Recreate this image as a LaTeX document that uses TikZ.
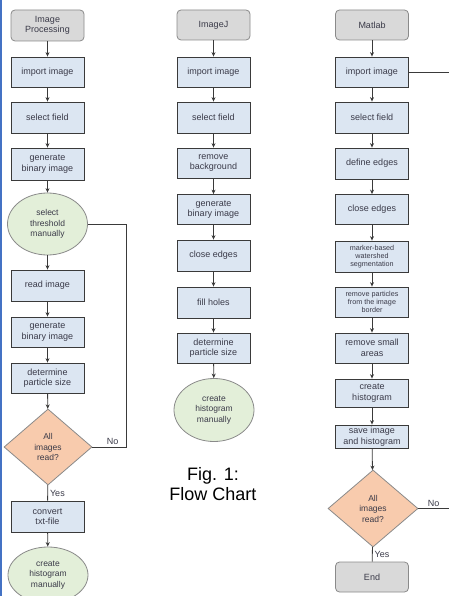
\documentclass[tikz,border=0pt]{standalone}
\usepackage{fontspec}
\setmainfont{Liberation Sans}
\usetikzlibrary{arrows.meta, shapes.geometric}
\definecolor{cbox}{HTML}{DCE6F2}
\definecolor{cstart}{HTML}{D9D9D9}
\definecolor{cmanual}{HTML}{E3EFD9}
\definecolor{cdecide}{HTML}{F8CBAD}
\definecolor{cline}{HTML}{3A3A3A}
\definecolor{cedge}{HTML}{8A8A8A}
\definecolor{ctext}{HTML}{3A3A48}
\definecolor{cframe}{HTML}{4472C4}
\tikzset{
  every picture/.style={line width=0.8pt},
  box/.style={draw=cline, fill=cbox, minimum width=73pt, minimum height=30pt, inner sep=1pt, align=center, text=ctext, font=\fontsize{9}{10.5}\selectfont},
  startbox/.style={box, draw=cedge, fill=cstart, rounded corners=4pt},
  manual/.style={ellipse, draw=cedge, fill=cmanual, minimum width=80pt, minimum height=62pt, inner sep=0pt, align=center, text=ctext, font=\fontsize{8.5}{10.5}\selectfont},
  decide/.style={diamond, draw=cedge, fill=cdecide, minimum width=88pt, minimum height=76pt, inner sep=0pt, align=center, text=ctext, font=\fontsize{8.5}{10.5}\selectfont},
  small/.style={font=\fontsize{7.2}{8}\selectfont},
  arrow/.style={-{Stealth[length=4.5pt, width=4pt]}, draw=cline},
  link/.style={draw=cline},
  answer/.style={text=ctext, font=\fontsize{9}{10}\selectfont, inner sep=2pt},
  caption/.style={align=center, font=\fontsize{18}{20}\selectfont},
}

\begin{document}
\begin{tikzpicture}[x=1pt, y=-1pt]
  \useasboundingbox (0,0) rectangle (449,596);
  \draw[cframe, line width=2pt] (1,0) -- (1,596);

  % image processing (left column)
  \node[startbox, minimum height=31pt] (start1) at (47.5,25.5) {Image\\Processing};
  \node[box] (imp1) at (47.5,72) {import image};
  \node[box, minimum height=31pt] (sel1) at (47.5,117.5) {select field};
  \node[box, minimum height=32pt] (gen1) at (47.5,164) {generate\\binary image};
  \node[manual] (thr1) at (47.5,224) {select\\threshold\\manually};
  \node[box, minimum height=31pt] (read1) at (47.5,285.5) {read image};
  \node[box] (genb1) at (47.5,332) {generate\\binary image};
  \node[box] (det1) at (47.5,378) {determine\\particle size};
  \node[decide] (dec1) at (48,447) {All\\images\\read?};
  \node[box, minimum height=31pt] (conv1) at (47.5,516.5) {convert\\txt-file};
  \node[manual, minimum height=56pt] (hist1) at (48,575) {create\\histogram\\manually};
  \coordinate (loop1) at (126,447);

  \draw[arrow] (start1) -- (imp1);
  \draw[arrow] (imp1) -- (sel1);
  \draw[arrow] (sel1) -- (gen1);
  \draw[arrow, line width=1.1pt] (gen1) -- (thr1);
  \draw[arrow, line width=1.1pt] (thr1) -- (read1);
  \draw[arrow] (read1) -- (genb1);
  \draw[arrow] (genb1) -- (det1);
  \draw[arrow] (det1) -- (dec1);
  \draw[link] (dec1) -- node[answer, right, pos=0.55] {Yes} (conv1);
  \draw[arrow] (conv1) -- (hist1);
  \draw[link] (dec1.east) -| node[answer, above, pos=0.3] {No} (loop1) |- (thr1.east);

  % ImageJ (middle column)
  \node[startbox] (start2) at (213.5,25) {ImageJ};
  \node[box] (imp2) at (213.5,72) {import image};
  \node[box, minimum height=31pt] (sel2) at (213.5,117.5) {select field};
  \node[box] (rem2) at (213.5,163) {remove\\background};
  \node[box] (gen2) at (213.5,209.5) {generate\\binary image};
  \node[box, minimum height=31pt] (close2) at (213.5,255.5) {close edges};
  \node[box, minimum height=31pt] (fill2) at (213.5,302.5) {fill holes};
  \node[box] (det2) at (213.5,348) {determine\\particle size};
  \node[manual, minimum height=63pt] (hist2) at (214,410) {create\\histogram\\manually};
  \node[caption] (fig) at (213,484) {Fig. 1:\\Flow Chart};

  \draw[arrow] (start2) -- (imp2);
  \draw[arrow] (imp2) -- (sel2);
  \draw[arrow] (sel2) -- (rem2);
  \draw[arrow] (rem2) -- (gen2);
  \draw[arrow] (gen2) -- (close2);
  \draw[arrow] (close2) -- (fill2);
  \draw[arrow] (fill2) -- (det2);
  \draw[arrow] (det2) -- (hist2);

  % Matlab (right column)
  \node[startbox] (start3) at (372,25) {Matlab};
  \node[box] (imp3) at (372,72) {import image};
  \node[box, minimum height=31pt] (sel3) at (372,117.5) {select field};
  \node[box, minimum height=31pt] (def3) at (372,163.5) {define edges};
  \node[box] (close3) at (372,209.5) {close edges};
  \node[box, small, minimum height=31pt] (ws3) at (372,256.5) {marker-based\\watershed\\segmentation};
  \node[box, small] (rmp3) at (372,302) {remove particles\\from the image\\border};
  \node[box] (rms3) at (372,348) {remove small\\areas};
  \node[box, minimum height=28pt] (crh3) at (372,393) {create\\histogram};
  \node[box, minimum height=23pt] (save3) at (372,436.5) {save image\\and histogram};
  \node[decide, minimum width=90pt, minimum height=77pt] (dec3) at (373,508.5) {All\\images\\read?};
  \node[startbox] (end3) at (372,577) {End};
  \coordinate (exit1) at (449,72);
  \coordinate (exit2) at (449,508.5);

  \draw[arrow] (start3) -- (imp3);
  \draw[arrow] (imp3) -- (sel3);
  \draw[arrow] (sel3) -- (def3);
  \draw[arrow] (def3) -- (close3);
  \draw[arrow] (close3) -- (ws3);
  \draw[arrow] (ws3) -- (rmp3);
  \draw[arrow] (rmp3) -- (rms3);
  \draw[arrow] (rms3) -- (crh3);
  \draw[arrow] (crh3) -- (save3);
  \draw[arrow] (save3) -- (dec3);
  \draw[link] (dec3) -- node[answer, right, pos=0.5] {Yes} (end3);
  \draw[link] (imp3) -- (exit1);
  \draw[link] (dec3) -- node[answer, above, pos=0.5] {No} (exit2);
\end{tikzpicture}
\end{document}
